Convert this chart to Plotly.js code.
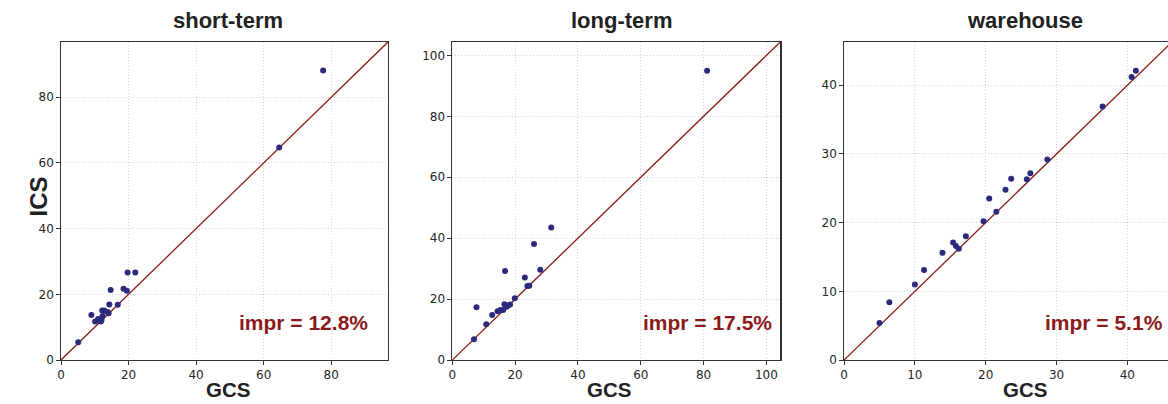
<!DOCTYPE html>
<html>
<head>
<meta charset="utf-8">
<script src="https://cdn.plot.ly/plotly-3.0.1.min.js"></script>
<style>
html,body{margin:0;padding:0;overflow:hidden;background:#fff;}
#chart{width:1176px;height:404px;}
</style>
</head>
<body>
<div id="chart"></div>
<script>
// ---- data ----
const panelTitles = ["short-term", "long-term", "warehouse"];
const imprLabels = ["impr = 12.8%", "impr = 17.5%", "impr = 5.1%"];

const shortGCS = [5.1, 9.0, 10.1, 11.0, 11.8, 12.0, 12.2, 12.8, 12.3, 13.8, 14.1, 14.3, 14.7, 16.8, 18.5, 19.5, 19.7, 22.0, 64.6, 77.6];
const shortICS = [5.4, 13.7, 11.7, 12.5, 11.7, 12.2, 15.1, 15.1, 13.4, 14.6, 14.2, 16.9, 21.3, 16.8, 21.7, 21.1, 26.6, 26.6, 64.7, 88.1];

const longGCS = [6.9, 7.7, 10.8, 12.7, 14.4, 15.3, 16.2, 16.6, 16.8, 17.3, 17.8, 18.4, 19.9, 23.1, 23.9, 24.5, 26.0, 28.0, 31.5, 81.1];
const longICS = [6.8, 17.3, 11.7, 14.8, 16.0, 16.4, 16.4, 18.3, 29.2, 17.5, 17.9, 18.2, 20.3, 27.1, 24.3, 24.4, 38.1, 29.6, 43.5, 95.0];

const whGCS = [5.0, 6.4, 10.0, 11.3, 13.9, 15.4, 15.8, 16.2, 17.2, 19.7, 20.5, 21.5, 22.8, 23.6, 25.8, 26.3, 28.7, 36.5, 40.6, 41.2];
const whICS = [5.4, 8.4, 11.0, 13.1, 15.6, 17.1, 16.6, 16.2, 18.0, 20.2, 23.5, 21.6, 24.8, 26.4, 26.3, 27.2, 29.2, 36.9, 41.2, 42.1];

const axisMax = [96.8, 104.4, 46.3];
const tickStep = [20, 20, 10];

// ---- styling ----
const dotColor = "#2b2a7c";
const lineColor = "#8b1a1a";
const tickFont = {family: "DejaVu Sans", size: 12, color: "#262626"};
const boldFont = "Liberation Sans";

const xs = [shortGCS, longGCS, whGCS];
const ys = [shortICS, longICS, whICS];
const domains = [[0, 0.2943], [0.3522, 0.6474], [0.7048, 1.0]];
const imprX = [0.946, 0.981, 0.979];
const titleShift = [3.5, 5.5, 17];
const gcsShift = [3.5, -7, 17];

const traces = [];
const layout = {
  width: 1176, height: 404,
  margin: {l: 61, r: 4, t: 41.5, b: 44, pad: 0},
  paper_bgcolor: "#fff", plot_bgcolor: "#fff",
  showlegend: false,
  annotations: []
};

for (let i = 0; i < 3; i++) {
  const sfx = i === 0 ? "" : String(i + 1);
  const xa = "x" + sfx, ya = "y" + sfx;
  const m = axisMax[i];
  traces.push({
    x: [0, m], y: [0, m], xaxis: xa, yaxis: ya,
    mode: "lines", line: {color: lineColor, width: 1.3}, hoverinfo: "skip"
  });
  traces.push({
    x: xs[i], y: ys[i], xaxis: xa, yaxis: ya,
    mode: "markers", marker: {color: dotColor, size: 6, line: {width: 0}}
  });
  const axBase = {
    range: [0, m], dtick: tickStep[i], tick0: 0,
    showgrid: true, gridcolor: "#c8c8c8", gridwidth: 0.8, griddash: "1px,2px",
    zeroline: false, showline: true, linecolor: "#333", linewidth: 1.3, mirror: true,
    ticks: "outside", ticklen: 3.5, tickwidth: 1, tickcolor: "#333",
    tickfont: tickFont, fixedrange: true
  };
  layout["xaxis" + sfx] = Object.assign({}, axBase, {domain: domains[i], anchor: ya});
  layout["yaxis" + sfx] = Object.assign({}, axBase, {domain: [0, 1], anchor: xa});

  layout.annotations.push({
    text: "<b>" + panelTitles[i] + "</b>", xref: xa + " domain", yref: "paper",
    x: 0.5, y: 1, yanchor: "middle", yshift: 22, xshift: titleShift[i], showarrow: false,
    font: {family: boldFont, size: 22, color: "#222", weight: "bold"}
  });
  layout.annotations.push({
    text: "<b>GCS</b>", xref: xa + " domain", yref: "paper",
    x: 0.5, y: 0, yanchor: "bottom", yshift: -43, xshift: gcsShift[i], showarrow: false,
    font: {family: boldFont, size: 20.5, color: "#222", weight: "bold"}
  });
  layout.annotations.push({
    text: "<b>" + imprLabels[i] + "</b>", xref: xa + " domain", yref: ya + " domain",
    x: imprX[i], y: 0.118, xanchor: "right", yanchor: "middle", showarrow: false,
    font: {family: boldFont, size: 21, color: lineColor, weight: "bold"}
  });
}
layout.annotations.push({
  text: "<b>ICS</b>", xref: "paper", yref: "paper", x: 0, y: 0.5, xshift: -39, yshift: 4,
  textangle: -90, showarrow: false,
  font: {family: boldFont, size: 24, color: "#222", weight: "bold"}
});

Plotly.newPlot("chart", traces, layout, {staticPlot: true, displayModeBar: false});
</script>
</body>
</html>
